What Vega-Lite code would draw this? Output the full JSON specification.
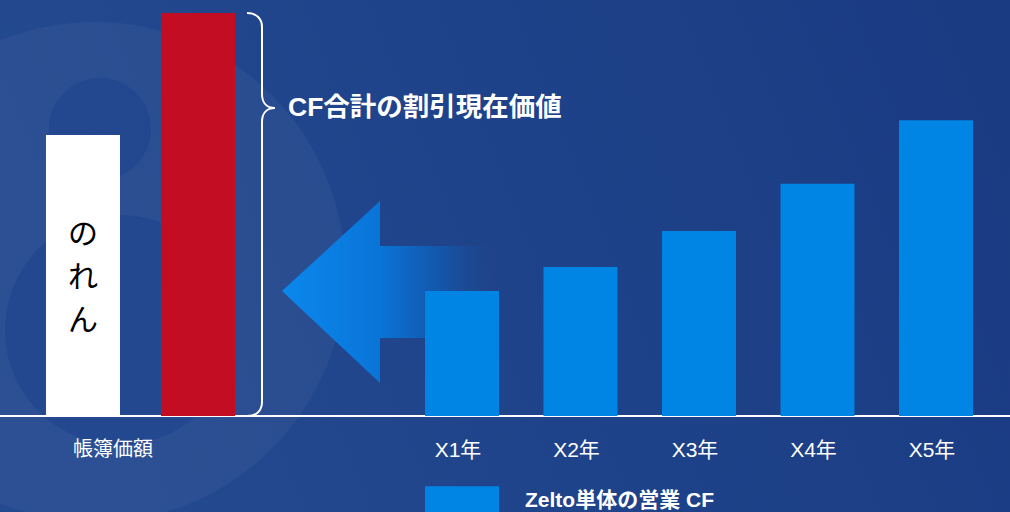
{
  "$schema": "https://vega.github.io/schema/vega-lite/v6.json",
  "width": 1010,
  "height": 512,
  "padding": 0,
  "autosize": {"type": "none"},
  "background": "#1f438a",
  "config": {
    "view": {
      "stroke": null,
      "fill": {"gradient": "linear", "x1": 0, "y1": 0.2, "x2": 1, "y2": 0, "stops": [{"offset": 0, "color": "#23498f"}, {"offset": 0.5, "color": "#1e4289"}, {"offset": 1, "color": "#1a3a82"}]}
    }
  },
  "datasets": {
    "left": [
      {"category": "帳簿価額", "series": "帳簿価額", "value": 69.7},
      {"category": "割引現在価値", "series": "CF合計の割引現在価値", "value": 100}
    ],
    "right": [
      {"category": "X1年", "series": "Zelto単体の営業 CF", "value": 31.0},
      {"category": "X2年", "series": "Zelto単体の営業 CF", "value": 37.0},
      {"category": "X3年", "series": "Zelto単体の営業 CF", "value": 45.9},
      {"category": "X4年", "series": "Zelto単体の営業 CF", "value": 57.6},
      {"category": "X5年", "series": "Zelto単体の営業 CF", "value": 73.4}
    ],
    "one": [{}]
  },
  "layer": [
    {
      "data": {"name": "one"},
      "mark": {"type": "point", "shape": "M -238 -144 A 250 250 0 1 0 262 -144 A 250 250 0 1 0 -238 -144 Z", "size": 4, "filled": true, "fill": "#ffffff", "fillOpacity": 0.045, "strokeWidth": 0},
      "encoding": {
        "x": {"datum": "帳簿価額", "type": "nominal", "scale": {"domain": ["帳簿価額", "割引現在価値"], "range": [25.5, 255.5], "paddingInner": 0.3565, "paddingOuter": 0.178}, "axis": null},
        "y": {"datum": 0, "type": "quantitative", "scale": {"domain": [-23.8, 103.2], "nice": false, "zero": false}, "axis": null}
      }
    },
    {
      "data": {"name": "one"},
      "mark": {"type": "point", "shape": "M -34 -287 A 51 51 0 1 0 68 -287 A 51 51 0 1 0 -34 -287 Z M -78 -86 A 115 115 0 1 0 152 -86 A 115 115 0 1 0 -78 -86 Z", "size": 4, "filled": true, "fill": "#21468d", "fillOpacity": 0.75, "strokeWidth": 0},
      "encoding": {
        "x": {"datum": "帳簿価額", "type": "nominal", "scale": {"domain": ["帳簿価額", "割引現在価値"], "range": [25.5, 255.5], "paddingInner": 0.3565, "paddingOuter": 0.178}, "axis": null},
        "y": {"datum": 0, "type": "quantitative", "scale": {"domain": [-23.8, 103.2], "nice": false, "zero": false}, "axis": null}
      }
    },
    {
      "data": {"name": "one"},
      "mark": {"type": "rule", "color": "#ffffff", "strokeWidth": 2},
      "encoding": {
        "y": {"datum": 0, "type": "quantitative", "scale": {"domain": [-23.8, 103.2], "nice": false, "zero": false}, "axis": null}
      }
    },
    {
      "data": {"name": "one"},
      "mark": {
        "type": "point",
        "shape": "M -180 0 L -82 -90 L -82 -45 L 40 -45 L 40 47 L -82 47 L -82 92 Z",
        "size": 4,
        "filled": true,
        "opacity": 1,
        "strokeWidth": 0,
        "fill": {"gradient": "linear", "x1": 0, "y1": 0, "x2": 1, "y2": 0, "stops": [
          {"offset": 0, "color": "#0a88ec"},
          {"offset": 0.45, "color": "#0a74d8"},
          {"offset": 0.72, "color": "rgba(14,95,185,0.7)"},
          {"offset": 1, "color": "rgba(30,66,137,0)"}
        ]}
      },
      "encoding": {
        "x": {"datum": "X1年", "type": "nominal", "scale": {"domain": ["X1年", "X2年", "X3年", "X4年", "X5年"], "range": [402.75, 995.25], "paddingInner": 0.3755, "paddingOuter": 0.1878}, "axis": null},
        "y": {"datum": 31, "type": "quantitative", "scale": {"domain": [-23.8, 103.2], "nice": false, "zero": false}, "axis": null}
      }
    },
    {
      "data": {"name": "left"},
      "mark": {"type": "bar"},
      "encoding": {
        "x": {"field": "category", "type": "nominal", "sort": null, "scale": {"domain": ["帳簿価額", "割引現在価値"], "range": [25.5, 255.5], "paddingInner": 0.3565, "paddingOuter": 0.178},
          "axis": {"title": null, "orient": "bottom", "offset": -96, "zindex": 1, "domain": false, "ticks": false, "tickSize": 0, "labelAngle": 0, "labelPadding": 23, "labelOffset": 30, "labelFont": "Noto Sans CJK JP", "labelFontSize": 20, "labelColor": "#ffffff", "labelExpr": "datum.value == '帳簿価額' ? datum.value : ''"}},
        "y": {"field": "value", "type": "quantitative", "scale": {"domain": [-23.8, 103.2], "nice": false, "zero": false}, "axis": null},
        "color": {"field": "series", "type": "nominal", "scale": {"domain": ["帳簿価額", "CF合計の割引現在価値", "Zelto単体の営業 CF"], "range": ["#ffffff", "#c30d23", "#0085e5"]},
          "legend": {"values": ["Zelto単体の営業 CF"], "title": null, "orient": "none", "legendX": 425, "legendY": 464, "padding": 0, "symbolType": "M -1 -0.4 L 1 -0.4 L 1 0.4 L -1 0.4 Z", "symbolSize": 5476, "symbolStrokeWidth": 0, "symbolOpacity": 1, "labelFont": "Liberation Sans, Noto Sans CJK JP", "labelFontSize": 21, "labelFontWeight": "bold", "labelColor": "#ffffff", "labelOffset": 26, "labelLimit": 0}}
      }
    },
    {
      "data": {"name": "right"},
      "mark": {"type": "bar"},
      "encoding": {
        "x": {"field": "category", "type": "nominal", "sort": null, "scale": {"domain": ["X1年", "X2年", "X3年", "X4年", "X5年"], "range": [402.75, 995.25], "paddingInner": 0.3755, "paddingOuter": 0.1878},
          "axis": {"title": null, "orient": "bottom", "offset": -96, "zindex": 1, "domain": false, "ticks": false, "tickSize": 0, "labelAngle": 0, "labelPadding": 23, "labelOffset": -4, "labelFont": "Liberation Sans, Noto Sans CJK JP", "labelFontSize": 21, "labelColor": "#ffffff"}},
        "y": {"field": "value", "type": "quantitative", "scale": {"domain": [-23.8, 103.2], "nice": false, "zero": false}, "axis": null},
        "color": {"field": "series", "type": "nominal", "scale": {"domain": ["帳簿価額", "CF合計の割引現在価値", "Zelto単体の営業 CF"], "range": ["#ffffff", "#c30d23", "#0085e5"]},
          "legend": {"values": ["Zelto単体の営業 CF"], "title": null, "orient": "none", "legendX": 425, "legendY": 464, "padding": 0, "symbolType": "M -1 -0.4 L 1 -0.4 L 1 0.4 L -1 0.4 Z", "symbolSize": 5476, "symbolStrokeWidth": 0, "symbolOpacity": 1, "labelFont": "Liberation Sans, Noto Sans CJK JP", "labelFontSize": 21, "labelFontWeight": "bold", "labelColor": "#ffffff", "labelOffset": 26, "labelLimit": 0}}
      }
    },
    {
      "data": {"name": "one"},
      "mark": {"type": "text", "text": ["の", "れ", "ん"], "font": "Noto Sans CJK JP", "fontSize": 30, "lineHeight": 43, "color": "#000000", "align": "center", "baseline": "middle"},
      "encoding": {
        "x": {"datum": "帳簿価額", "type": "nominal", "scale": {"domain": ["帳簿価額", "割引現在価値"], "range": [25.5, 255.5], "paddingInner": 0.3565, "paddingOuter": 0.178}, "axis": null},
        "y": {"datum": 44.9, "type": "quantitative", "scale": {"domain": [-23.8, 103.2], "nice": false, "zero": false}, "axis": null}
      }
    },
    {
      "data": {"name": "one"},
      "mark": {"type": "point", "shape": "M 49 -403 C 58 -403 64 -398 64 -389 L 64 -322 C 64 -313 69 -308 77 -308 C 69 -308 64 -303 64 -294 L 64 -14 C 64 -5 58 0 49 0", "size": 4, "filled": false, "fill": null, "stroke": "#ffffff", "strokeWidth": 2, "opacity": 1},
      "encoding": {
        "x": {"datum": "割引現在価値", "type": "nominal", "scale": {"domain": ["帳簿価額", "割引現在価値"], "range": [25.5, 255.5], "paddingInner": 0.3565, "paddingOuter": 0.178}, "axis": null},
        "y": {"datum": 0, "type": "quantitative", "scale": {"domain": [-23.8, 103.2], "nice": false, "zero": false}, "axis": null}
      }
    },
    {
      "data": {"name": "one"},
      "mark": {"type": "text", "text": "CF合計の割引現在価値", "font": "Liberation Sans, Noto Sans CJK JP", "fontSize": 26.5, "fontWeight": "bold", "color": "#ffffff", "align": "left", "baseline": "middle", "dx": 90},
      "encoding": {
        "x": {"datum": "割引現在価値", "type": "nominal", "scale": {"domain": ["帳簿価額", "割引現在価値"], "range": [25.5, 255.5], "paddingInner": 0.3565, "paddingOuter": 0.178}, "axis": null},
        "y": {"datum": 76.4, "type": "quantitative", "scale": {"domain": [-23.8, 103.2], "nice": false, "zero": false}, "axis": null}
      }
    }
  ],
  "resolve": {"scale": {"x": "independent"}, "axis": {"x": "independent"}}
}
